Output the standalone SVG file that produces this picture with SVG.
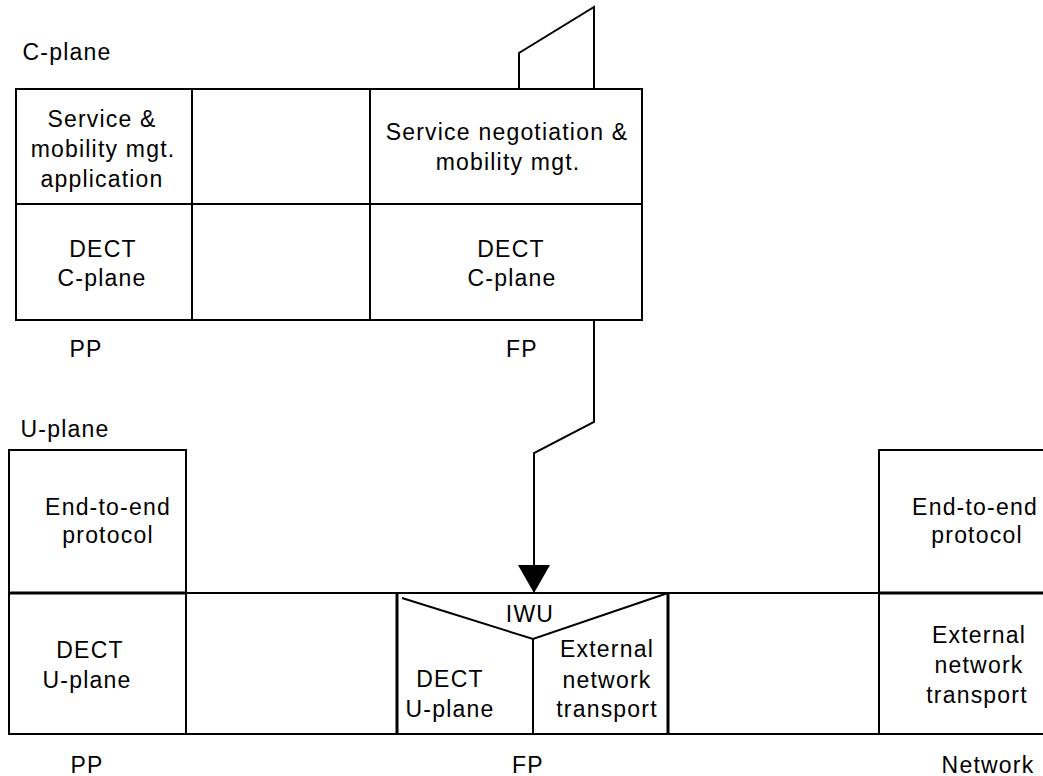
<svg xmlns="http://www.w3.org/2000/svg" width="1043" height="776" viewBox="0 0 1043 776">
<style>
.l{fill:none;stroke:#000;stroke-width:2}
text{font-family:"Liberation Sans",Arial,sans-serif;font-size:23px;letter-spacing:1.2px;fill:#000;text-anchor:middle}
</style>
<defs>
<marker id="ah" markerWidth="28" markerHeight="32" refX="28" refY="16" orient="auto" markerUnits="userSpaceOnUse" viewBox="0 0 28 32">
<path d="M0,0 L28,16 L0,32 Z" fill="#000"/>
</marker>
</defs>
<rect width="1043" height="776" fill="#fff"/>
<text x="67" y="60">C-plane</text>
<text x="65" y="437">U-plane</text>
<g id="pp-c">
<rect class="l" x="16" y="89" width="176" height="231"/>
<line class="l" x1="16" y1="204" x2="192" y2="204"/>
<text x="102" y="127">Service &amp;</text>
<text x="103" y="157">mobility mgt.</text>
<text x="102" y="187">application</text>
<text x="103" y="257">DECT</text>
<text x="102" y="286">C-plane</text>
</g>
<g id="mid-c">
<rect class="l" x="192" y="89" width="178" height="231"/>
<line class="l" x1="192" y1="204" x2="370" y2="204"/>
</g>
<g id="fp-c">
<rect class="l" x="370" y="89" width="272" height="231"/>
<line class="l" x1="370" y1="204" x2="642" y2="204"/>
<text x="507" y="140">Service negotiation &amp;</text>
<text x="508" y="170">mobility mgt.</text>
<text x="511" y="257">DECT</text>
<text x="512" y="286">C-plane</text>
</g>
<text x="86" y="357">PP</text>
<text x="522" y="357">FP</text>
<g id="pp-u">
<rect class="l" x="9" y="450" width="177" height="284"/>
<line class="l" x1="9" y1="593" x2="186" y2="593" style="stroke-width:3"/>
<text x="108" y="515">End-to-end</text>
<text x="108" y="543">protocol</text>
<text x="90" y="658">DECT</text>
<text x="87" y="688">U-plane</text>
</g>
<g id="link-u">
<line class="l" x1="186" y1="593" x2="879" y2="593"/>
<line class="l" x1="186" y1="734" x2="879" y2="734"/>
</g>
<g id="iwu">
<line class="l" x1="397" y1="593" x2="397" y2="734" style="stroke-width:3"/>
<line class="l" x1="668" y1="593" x2="668" y2="734" style="stroke-width:3"/>
<polyline class="l" points="402,598 533,639 668,593"/>
<line class="l" x1="533" y1="639" x2="533" y2="734"/>
<text x="530" y="622">IWU</text>
<text x="450" y="687">DECT</text>
<text x="450" y="717">U-plane</text>
<text x="607" y="657">External</text>
<text x="607" y="688">network</text>
<text x="607" y="717">transport</text>
</g>
<g id="net-u">
<polyline class="l" points="1045,450 879,450 879,734 1045,734"/>
<line class="l" x1="879" y1="593" x2="1045" y2="593" style="stroke-width:3"/>
<text x="975" y="515">End-to-end</text>
<text x="977" y="543">protocol</text>
<text x="979" y="643">External</text>
<text x="979" y="673">network</text>
<text x="977" y="703">transport</text>
</g>
<text x="87" y="773">PP</text>
<text x="528" y="773">FP</text>
<text x="988" y="773">Network</text>
<g id="connectors">
<polyline class="l" points="519,89 519,53 594,7 594,89"/>
<polyline class="l" points="594,320 594,422 534,453 534,593" marker-end="url(#ah)"/>
</g>
</svg>
